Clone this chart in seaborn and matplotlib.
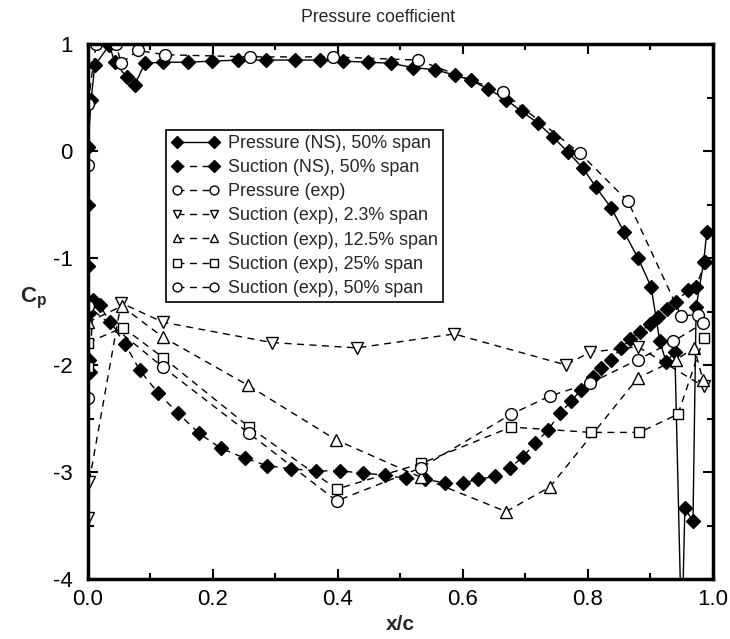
import matplotlib
matplotlib.use("Agg")
import matplotlib.pyplot as plt
from matplotlib.ticker import MultipleLocator, FixedLocator
import seaborn as sns

# ---------------- data ----------------
ns_p_x = [0.0, 0.005, 0.011, 0.034, 0.043, 0.062, 0.075, 0.091, 0.12, 0.16, 0.198, 0.24,
          0.285, 0.331, 0.371, 0.408, 0.448, 0.485, 0.52, 0.555, 0.587, 0.613, 0.64, 0.669,
          0.694, 0.72, 0.744, 0.768, 0.792, 0.813, 0.837, 0.858, 0.88, 0.901, 0.915, 0.925,
          0.939, 0.95, 0.955, 0.968, 0.973, 0.985, 0.99]
ns_p_y = [0.04, 0.48, 0.80, 0.99, 0.83, 0.69, 0.62, 0.82, 0.83, 0.83, 0.84, 0.85,
          0.85, 0.85, 0.85, 0.84, 0.83, 0.82, 0.78, 0.76, 0.71, 0.66, 0.58, 0.48,
          0.37, 0.26, 0.13, -0.01, -0.16, -0.34, -0.53, -0.76, -1.0, -1.27, -1.78, -1.97,
          -1.88, -4.6, -3.34, -3.46, -1.46, -1.04, -0.76]

ns_s_x = [0.0, 0.0, 0.0, 0.001, 0.002, 0.003, 0.008, 0.019, 0.035, 0.059, 0.083, 0.112,
          0.144, 0.178, 0.213, 0.251, 0.286, 0.325, 0.365, 0.403, 0.44, 0.475, 0.509, 0.539,
          0.571, 0.6, 0.624, 0.651, 0.675, 0.696, 0.715, 0.736, 0.755, 0.773, 0.789, 0.808,
          0.821, 0.837, 0.853, 0.867, 0.883, 0.899, 0.912, 0.927, 0.941, 0.96, 0.973, 0.987]
ns_s_y = [0.04, -0.5, -1.07, -1.51, -1.95, -2.07, -1.39, -1.44, -1.6, -1.8, -2.05, -2.26,
          -2.45, -2.64, -2.78, -2.87, -2.94, -2.97, -2.99, -2.99, -3.01, -3.03, -3.06, -3.07,
          -3.1, -3.1, -3.07, -3.04, -2.96, -2.86, -2.73, -2.61, -2.45, -2.34, -2.23, -2.11,
          -2.03, -1.95, -1.84, -1.76, -1.69, -1.62, -1.55, -1.48, -1.41, -1.3, -1.27, -1.04]

exp_p_x = [0.0, 0.0, 0.013, 0.045, 0.053, 0.08, 0.123, 0.259, 0.392, 0.528, 0.664, 0.787,
           0.864, 0.949, 0.976]
exp_p_y = [-0.13, 0.44, 1.0, 1.0, 0.82, 0.94, 0.9, 0.88, 0.88, 0.85, 0.55, -0.02,
           -0.47, -1.54, -1.53]

exp_s23_x = [0.0, 0.002, 0.053, 0.12, 0.294, 0.43, 0.586, 0.765, 0.803, 0.88, 0.985]
exp_s23_y = [-3.43, -3.09, -1.42, -1.6, -1.79, -1.84, -1.71, -2.0, -1.88, -1.83, -2.2]

exp_s125_x = [0.0, 0.054, 0.12, 0.256, 0.397, 0.533, 0.669, 0.739, 0.88, 0.941, 0.97, 0.984]
exp_s125_y = [-1.6, -1.45, -1.74, -2.19, -2.7, -3.05, -3.37, -3.14, -2.12, -1.95, -1.84, -2.14]

exp_s25_x = [0.0, 0.0, 0.056, 0.12, 0.258, 0.398, 0.533, 0.677, 0.805, 0.882, 0.944, 0.985]
exp_s25_y = [-2.02, -1.79, -1.65, -1.93, -2.58, -3.16, -2.92, -2.58, -2.63, -2.63, -2.46, -1.75]

exp_s50_x = [0.0, 0.0, 0.12, 0.258, 0.398, 0.533, 0.677, 0.739, 0.803, 0.88, 0.936, 0.984]
exp_s50_y = [-2.31, -1.45, -2.02, -2.64, -3.27, -2.96, -2.46, -2.29, -2.17, -1.95, -1.78, -1.61]

labels = ["Pressure (NS), 50% span", "Suction (NS), 50% span", "Pressure (exp)",
          "Suction (exp), 2.3% span", "Suction (exp), 12.5% span",
          "Suction (exp), 25% span", "Suction (exp), 50% span"]

xticks = [0.0, 0.2, 0.4, 0.6, 0.8, 1.0]
xticklabels = ["0.0", "0.2", "0.4", "0.6", "0.8", "1.0"]
yticks = [-4, -3, -2, -1, 0, 1]
yticklabels = ["-4", "-3", "-2", "-1", "0", "1"]

# ---------------- style ----------------
sns.set_theme(style="ticks")
plt.rcParams["font.family"] = ["Liberation Sans", "DejaVu Sans"]
plt.rcParams["axes.unicode_minus"] = False
plt.rcParams["mathtext.fontset"] = "custom"
plt.rcParams["mathtext.rm"] = "Liberation Sans"
plt.rcParams["mathtext.bf"] = "Liberation Sans:bold"

fig = plt.figure(figsize=(7.3, 6.39), dpi=100)
ax = fig.add_axes([0.1205, 0.0939, 0.8562, 0.8372])

dash = (0, (5, 4))
specs = [
    (ns_p_x, ns_p_y, "-", "D", "black", 7.5),
    (ns_s_x, ns_s_y, dash, "D", "black", 7.5),
    (exp_p_x, exp_p_y, dash, "o", "white", 8.5),
    (exp_s23_x, exp_s23_y, dash, "v", "white", 8.5),
    (exp_s125_x, exp_s125_y, dash, "^", "white", 8.5),
    (exp_s25_x, exp_s25_y, dash, "s", "white", 7),
    (exp_s50_x, exp_s50_y, dash, "o", "white", 8.5),
]
for (xs, ys, ls, mk, mfc, ms), lab in zip(specs, labels):
    sns.lineplot(x=xs, y=ys, sort=False, estimator=None, ax=ax, color="black",
                 linestyle=ls, linewidth=1.0, marker=mk, markersize=ms,
                 markerfacecolor=mfc, markeredgecolor="black", markeredgewidth=1.0,
                 label=lab)

ax.set_xlim(0, 1)
ax.set_ylim(-4, 1)
ax.xaxis.set_major_locator(FixedLocator(xticks))
ax.set_xticklabels(xticklabels)
ax.yaxis.set_major_locator(FixedLocator(yticks))
ax.set_yticklabels(yticklabels)
ax.xaxis.set_minor_locator(MultipleLocator(0.1))
ax.yaxis.set_minor_locator(MultipleLocator(0.5))
ax.tick_params(which="both", direction="in", top=True, right=True, colors="black",
               labelsize=16, width=1.5)
ax.tick_params(which="major", length=7)
ax.tick_params(which="minor", length=4)
ax.tick_params(axis="y", which="major", pad=11)
ax.tick_params(axis="x", which="major", pad=7)
for s in ax.spines.values():
    s.set_linewidth(2.5)
    s.set_color("black")
ax.set_xlabel("")
ax.set_ylabel("")

handles, labs = ax.get_legend_handles_labels()
leg = ax.legend(handles, labs, loc="upper left", bbox_to_anchor=(0.125, 0.840),
                frameon=True, fancybox=False, framealpha=1, edgecolor="black",
                fontsize=12.9, numpoints=2, handlelength=2.7, handletextpad=0.45,
                labelspacing=0.4, borderpad=0.3, borderaxespad=0, markerscale=0.75)
leg.get_frame().set_linewidth(1.2)

fig.text(0.518, 0.972, "Pressure coefficient", ha="center", va="center", fontsize=12.7)
fig.text(0.548, 0.022, "x/c", ha="center", va="center", fontsize=15, fontweight="bold")
fig.text(0.046, 0.533, r"$\mathbf{C_p}$", ha="center", va="center", fontsize=16)

fig.savefig("out.png", dpi=100)
